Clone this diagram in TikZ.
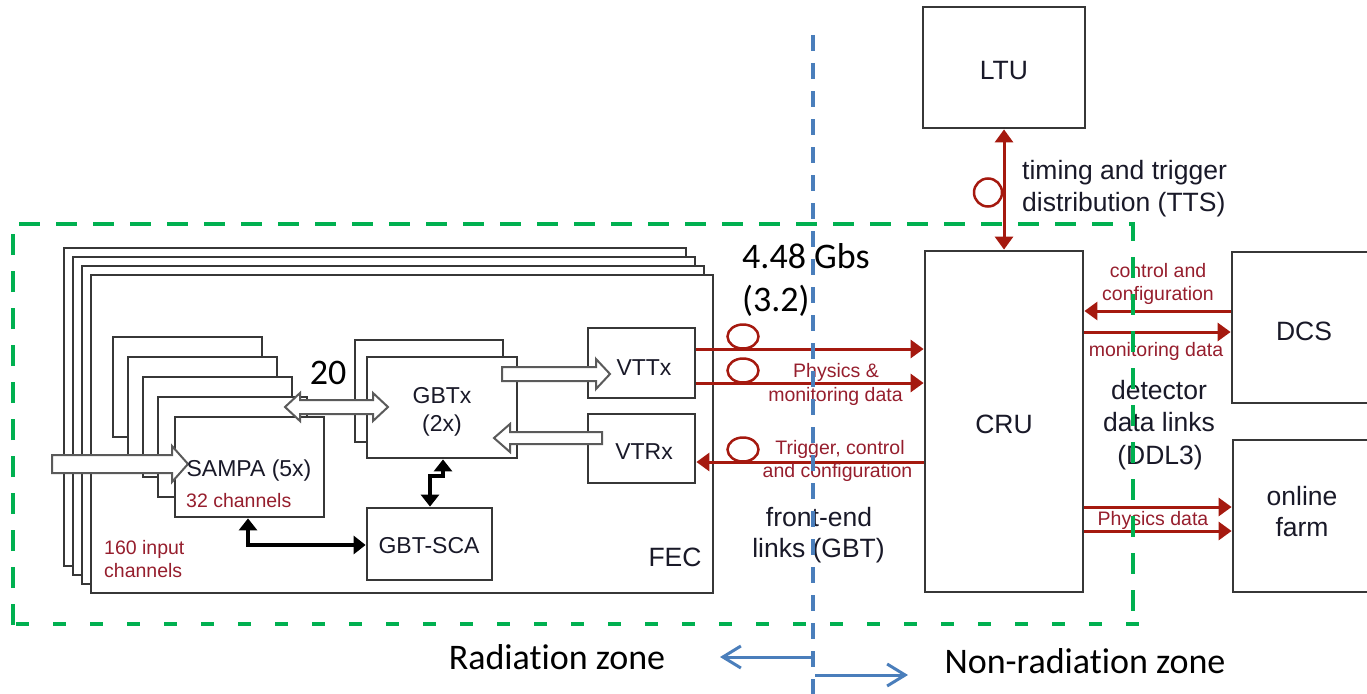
\documentclass[tikz,border=0pt]{standalone}
\usepackage{fontspec}
\setmainfont{Liberation Sans}
\newfontfamily\calibri[Ligatures=NoCommon]{Carlito}
\usetikzlibrary{arrows.meta,calc}
\definecolor{boxgray}{RGB}{55,55,55}
\definecolor{hgray}{RGB}{90,90,90}
\definecolor{dred}{RGB}{165,25,15}
\definecolor{tred}{RGB}{150,30,45}
\definecolor{zgreen}{RGB}{0,176,80}
\definecolor{zblue}{RGB}{74,126,187}
\definecolor{txt}{RGB}{25,25,40}
% hollow arrows: x1, x2, y, shaft half width, head half width, head length
\newcommand\hollowR[6]{\draw[hollow] (#1,#3-#4) -- (#2-#6,#3-#4) -- (#2-#6,#3-#5) -- (#2,#3) -- (#2-#6,#3+#5) -- (#2-#6,#3+#4) -- (#1,#3+#4) -- cycle;}
\newcommand\hollowL[6]{\draw[hollow] (#1,#3-#4) -- (#2+#6,#3-#4) -- (#2+#6,#3-#5) -- (#2,#3) -- (#2+#6,#3+#5) -- (#2+#6,#3+#4) -- (#1,#3+#4) -- cycle;}
\newcommand\hollowLR[6]{\draw[hollow] (#1+#6,#3-#4) -- (#2-#6,#3-#4) -- (#2-#6,#3-#5) -- (#2,#3) -- (#2-#6,#3+#5) -- (#2-#6,#3+#4) -- (#1+#6,#3+#4) -- (#1+#6,#3+#5) -- (#1,#3) -- (#1+#6,#3-#5) -- cycle;}
\begin{document}
\begin{tikzpicture}[x=1pt,y=-1pt,
  box/.style={draw=boxgray, line width=2.8pt, fill=white, inner sep=0pt},
  lbl/.style={font=\fontsize{23}{27}\selectfont, text=txt, inner sep=0pt, text height=16.5pt, text depth=0pt},
  big/.style={font=\fontsize{26.5}{32}\selectfont, text=txt, inner sep=0pt, text height=19pt, text depth=0pt},
  small/.style={font=\fontsize{19.5}{23}\selectfont, text=tred, inner sep=0pt, text height=14pt, text depth=0pt},
  note/.style={font=\calibri\fontsize{36}{43}\selectfont, text=black, inner sep=0pt, text height=23pt, text depth=0pt},
  hollow/.style={draw=hgray, line width=2pt, fill=white, line join=miter},
  redarr/.style={draw=dred, line width=3pt, -{Triangle[length=13pt,width=18pt]}},
  redarr2/.style={draw=dred, line width=3pt, {Triangle[length=13pt,width=18pt]}-{Triangle[length=13pt,width=18pt]}},
  blkarr/.style={draw=black, line width=4pt, line join=miter, {Triangle[length=12pt,width=18pt]}-{Triangle[length=12pt,width=18pt]}},
  ring/.style={draw=dred, line width=2.5pt},
  zonearr/.style={draw=zblue, line width=3pt, -{Straight Barb[length=18pt,width=22pt,line width=3pt]}},
]
\useasboundingbox (0,0) rectangle (1367,693);
\clip (0,0) rectangle (1367,693);

% FEC boards
\node[box, minimum width=622pt, minimum height=318pt] (b4) at (375,407) {};
\node[box, minimum width=622pt, minimum height=318pt] (b3) at (384,416) {};
\node[box, minimum width=622pt, minimum height=318pt] (b2) at (393,425) {};
\node[box, minimum width=622pt, minimum height=318pt] (fec) at (402,434) {};

% SAMPA stack
\node[box, minimum width=149pt, minimum height=100pt] (s5) at (187.5,387) {};
\node[box, minimum width=149pt, minimum height=100pt] (s4) at (202.5,407) {};
\node[box, minimum width=149pt, minimum height=100pt] (s3) at (217.5,427) {};
\node[box, minimum width=149pt, minimum height=100pt] (s2) at (232.5,447) {};
\node[box, minimum width=149pt, minimum height=100pt] (sampa) at (249.5,467) {};

% GBTx stack
\node[box, minimum width=148pt, minimum height=102pt] (g2) at (429,391) {};
\node[box, minimum width=150pt, minimum height=101pt] (gbtx) at (442,407.5) {};

\node[box, minimum width=107pt, minimum height=70pt] (vttx) at (641.5,363) {};
\node[box, minimum width=107pt, minimum height=69pt] (vtrx) at (641.5,448.5) {};
\node[box, minimum width=125pt, minimum height=72pt] (sca) at (429.5,544) {};

% right side boxes
\node[box, minimum width=162pt, minimum height=121pt] (ltu) at (1004,67.5) {};
\node[box, minimum width=158pt, minimum height=341pt] (cru) at (1004,421.5) {};
\node[box, minimum width=168pt, minimum height=151pt] (dcs) at (1316,327.5) {};
\node[box, minimum width=167pt, minimum height=152pt] (farm) at (1316.5,516) {};

% hollow arrows
\hollowR{52}{188}{464}{9}{18}{16}
\hollowLR{285}{388}{407}{7}{14}{15}
\hollowR{502}{610}{374}{7}{15}{14}
\hollowL{602}{494}{438}{6}{14}{16}

% black arrows
\coordinate (k1) at (248,545);
\draw[blkarr] (sampa.south -| k1) -- (k1) -- (sca.west |- k1);
\coordinate (k2) at (443,476);
\coordinate (k3) at (430,476);
\draw[blkarr] (gbtx.south -| k2) -- (k2) -- (k3) -- (sca.north -| k3);

% red links FEC - CRU
\coordinate (r1) at (0,349);
\coordinate (r2) at (0,383);
\coordinate (r3) at (0,462);
\draw[redarr] (vttx.east |- r1) -- (cru.west |- r1);
\draw[redarr] (vttx.east |- r2) -- (cru.west |- r2);
\draw[redarr] (cru.west |- r3) -- (vtrx.east |- r3);
\draw[ring] (743,336.5) ellipse [x radius=15.5, y radius=12];
\draw[ring] (743,370.5) ellipse [x radius=15.5, y radius=12];
\draw[ring] (743,449.5) ellipse [x radius=15.5, y radius=12];

% LTU - CRU
\draw[redarr2] (ltu.south) -- (cru.north);
\draw[ring] (988,192.5) ellipse [x radius=14, y radius=14];

% CRU - DCS / farm
\coordinate (r4) at (0,311);
\coordinate (r5) at (0,332);
\coordinate (r6) at (0,507);
\coordinate (r7) at (0,531);
\draw[redarr] (dcs.west |- r4) -- (cru.east |- r4);
\draw[redarr] (cru.east |- r5) -- (dcs.west |- r5);
\draw[redarr] (cru.east |- r6) -- (farm.west |- r6);
\draw[redarr] (cru.east |- r7) -- (farm.west |- r7);

% box labels
\node[lbl] (tsampa) at (249,468) {SAMPA (5x)};
\node[small, anchor=west] (t32) at (186,500) {32 channels};
\node[small, anchor=west] (t160a) at (104,547) {160 input};
\node[small, anchor=west] (t160b) at (104,570) {channels};
\node[lbl] (tgbtx1) at (442,395) {GBTx};
\node[lbl] (tgbtx2) at (442,423) {(2x)};
\node[lbl] (tvttx) at (644,367) {VTTx};
\node[lbl] (tvtrx) at (644,451) {VTRx};
\node[lbl] (tsca) at (429,545) {GBT-SCA};
\node[big] (tfec) at (675,557) {FEC};
\node[big] (tltu) at (1004,70) {LTU};
\node[big] (tcru) at (1004,424) {CRU};
\node[big] (tdcs) at (1304,331) {DCS};
\node[big] (tonl) at (1302,496) {online};
\node[big] (tfarm) at (1302,527) {farm};

% link labels
\node[small] (tphy1) at (836,370) {Physics \&};
\node[small] (tphy2) at (835.5,394) {monitoring data};
\node[small] (ttrg1) at (840,447) {Trigger, control};
\node[small] (ttrg2) at (837.5,470) {and configuration};
\node[small] (tcc1) at (1158,270) {control and};
\node[small] (tcc2) at (1158,293) {configuration};
\node[small] (tmon) at (1156,349) {monitoring data};
\node[small] (tpd) at (1153,518) {Physics data};
\node[big] (tdet1) at (1159,390) {detector};
\node[big] (tdet2) at (1159,422) {data links};
\node[big] (tdet3) at (1160,455) {(DDL3)};
\node[big, anchor=west] (ttts1) at (1022,170) {timing and trigger};
\node[big, anchor=west] (ttts2) at (1022,202) {distribution (TTS)};
\node[big] (tfe1) at (819,517) {front-end};
\node[big] (tfe2) at (818.5,548) {links (GBT)};

% annotations
\node[note] (t20) at (328,373) {20};
\node[note, anchor=west] (tgbs1) at (742,257) {4.48 Gbs};
\node[note, anchor=west] (tgbs2) at (742,300) {(3.2)};
\node[note] (trad) at (557,658) {Radiation zone};
\node[note] (tnon) at (1085,662) {Non-radiation zone};

% radiation zone border
\draw[zgreen, line width=4.5pt, dash pattern=on 21pt off 16pt] (13,625) -- (13,224) -- (1133,224) -- (1133,625);
\draw[zgreen, line width=4.5pt, dash pattern=on 13pt off 24pt] (16,624) -- (1140,624);

% zone divider
\coordinate (zt) at (813,35);
\coordinate (zb) at (813,700);
\draw[zblue, line width=4pt, dash pattern=on 16pt off 12pt] (zt) -- (zb);
\coordinate (za) at (813,657);
\coordinate (zaa) at (720,657);
\coordinate (zc) at (815,675);
\coordinate (zcc) at (908,675);
\draw[zonearr] (za) -- (zaa);
\draw[zonearr] (zc) -- (zcc);
\end{tikzpicture}
\end{document}
